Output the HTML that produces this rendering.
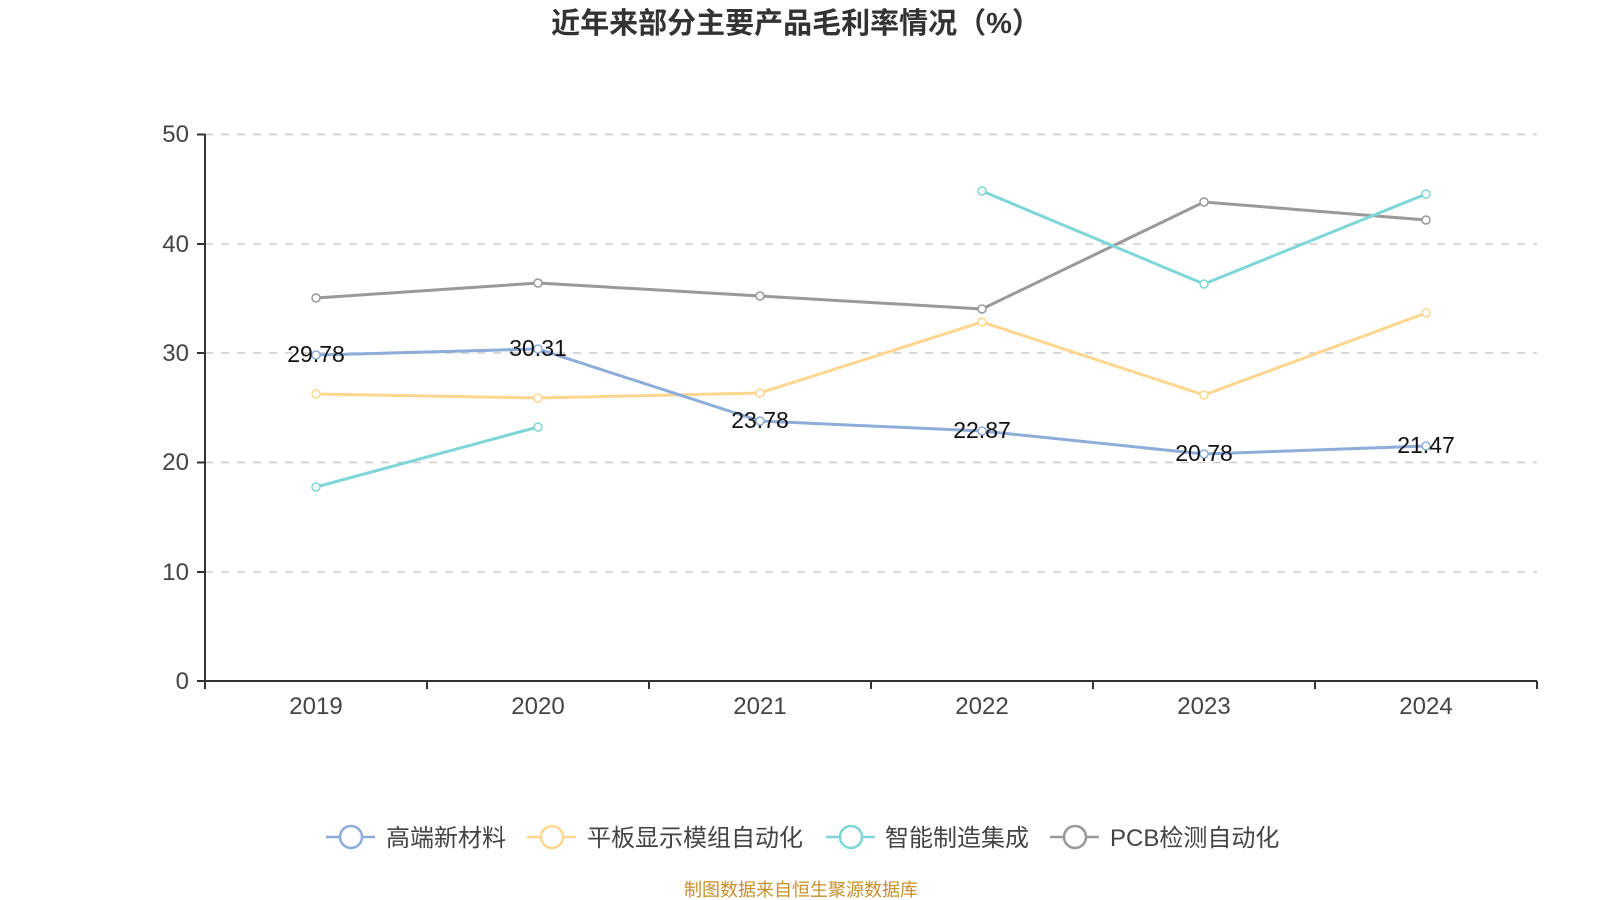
<!DOCTYPE html>
<html><head><meta charset="utf-8"><style>body{margin:0;background:#fff}svg{display:block}text{font-family:"Liberation Sans","Noto Sans CJK SC",sans-serif}</style></head>
<body>
<svg width="1600" height="900" xmlns="http://www.w3.org/2000/svg">
<text x="796" y="33" text-anchor="middle" font-size="29" font-weight="bold" fill="#333">近年来部分主要产品毛利率情况（%）</text>
<g stroke="#ccc" stroke-width="1.5" stroke-dasharray="8,8">
<line x1="205" x2="1537" y1="134.5" y2="134.5"/><line x1="205" x2="1537" y1="244" y2="244"/><line x1="205" x2="1537" y1="353" y2="353"/><line x1="205" x2="1537" y1="462.5" y2="462.5"/><line x1="205" x2="1537" y1="572" y2="572"/>
</g>
<g stroke="#333" stroke-width="2">
<line x1="205" x2="205" y1="134" y2="681"/><line x1="197" x2="1537" y1="681" y2="681"/>
<line x1="197" x2="205" y1="134.5" y2="134.5"/><line x1="197" x2="205" y1="244" y2="244"/><line x1="197" x2="205" y1="353" y2="353"/><line x1="197" x2="205" y1="462.5" y2="462.5"/><line x1="197" x2="205" y1="572" y2="572"/>
<line x1="205" x2="205" y1="681" y2="689"/><line x1="427" x2="427" y1="681" y2="689"/><line x1="649" x2="649" y1="681" y2="689"/><line x1="871" x2="871" y1="681" y2="689"/><line x1="1093" x2="1093" y1="681" y2="689"/><line x1="1315" x2="1315" y1="681" y2="689"/><line x1="1537" x2="1537" y1="681" y2="689"/>
</g>
<g font-size="24" fill="#444" text-anchor="end">
<text x="189" y="142">50</text><text x="189" y="252">40</text><text x="189" y="361">30</text><text x="189" y="470">20</text><text x="189" y="580">10</text><text x="189" y="689">0</text>
</g>
<g font-size="24" fill="#444" text-anchor="middle">
<text x="316" y="714">2019</text><text x="538" y="714">2020</text><text x="760" y="714">2021</text><text x="982" y="714">2022</text><text x="1204" y="714">2023</text><text x="1426" y="714">2024</text>
</g>
<g fill="none" stroke-width="3">
<polyline stroke="#999" points="316,298 538,283 760,296 982,309 1204,202 1426,220"/>
<polyline stroke="#fdd68f" points="316,394 538,398 760,393 982,322 1204,395 1426,313"/>
<polyline stroke="#7fd6d6" points="316,487 538,427"/>
<polyline stroke="#7fd6d6" points="982,191 1204,284 1426,194"/>
<polyline stroke="#8eacd9" points="316,355 538,349 760,421 982,431 1204,454 1426,446"/>
</g>
<g fill="#fff" stroke-width="1.5">
<g stroke="#999"><circle cx="316" cy="298" r="4"/><circle cx="538" cy="283" r="4"/><circle cx="760" cy="296" r="4"/><circle cx="982" cy="309" r="4"/><circle cx="1204" cy="202" r="4"/><circle cx="1426" cy="220" r="4"/></g>
<g stroke="#fdd68f"><circle cx="316" cy="394" r="4"/><circle cx="538" cy="398" r="4"/><circle cx="760" cy="393" r="4"/><circle cx="982" cy="322" r="4"/><circle cx="1204" cy="395" r="4"/><circle cx="1426" cy="313" r="4"/></g>
<g stroke="#7fd6d6"><circle cx="316" cy="487" r="4"/><circle cx="538" cy="427" r="4"/><circle cx="982" cy="191" r="4"/><circle cx="1204" cy="284" r="4"/><circle cx="1426" cy="194" r="4"/></g>
<g stroke="#8eacd9"><circle cx="316" cy="355" r="4"/><circle cx="538" cy="349" r="4"/><circle cx="760" cy="421" r="4"/><circle cx="982" cy="431" r="4"/><circle cx="1204" cy="454" r="4"/><circle cx="1426" cy="446" r="4"/></g>
</g>
<g font-size="23" fill="#111" text-anchor="middle">
<text x="316" y="362">29.78</text><text x="538" y="356">30.31</text><text x="760" y="428">23.78</text><text x="982" y="438">22.87</text><text x="1204" y="461">20.78</text><text x="1426" y="453">21.47</text>
</g>
<g stroke-width="2.5" fill="#fff">
<line x1="326" x2="375" y1="837" y2="837" stroke="#8eacd9"/><circle cx="351" cy="837" r="11" stroke="#8eacd9"/>
<line x1="527" x2="576" y1="837" y2="837" stroke="#fdd68f"/><circle cx="552" cy="837" r="11" stroke="#fdd68f"/>
<line x1="826" x2="875" y1="837" y2="837" stroke="#7fd6d6"/><circle cx="851" cy="837" r="11" stroke="#7fd6d6"/>
<line x1="1050" x2="1099" y1="837" y2="837" stroke="#999"/><circle cx="1075" cy="837" r="11" stroke="#999"/>
</g>
<g font-size="24" fill="#444">
<text x="386" y="846">高端新材料</text><text x="587" y="846">平板显示模组自动化</text><text x="885" y="846">智能制造集成</text><text x="1110" y="846">PCB检测自动化</text>
</g>
<text x="801" y="896" text-anchor="middle" font-size="18" fill="#c8902a">制图数据来自恒生聚源数据库</text>
</svg>
</body></html>
